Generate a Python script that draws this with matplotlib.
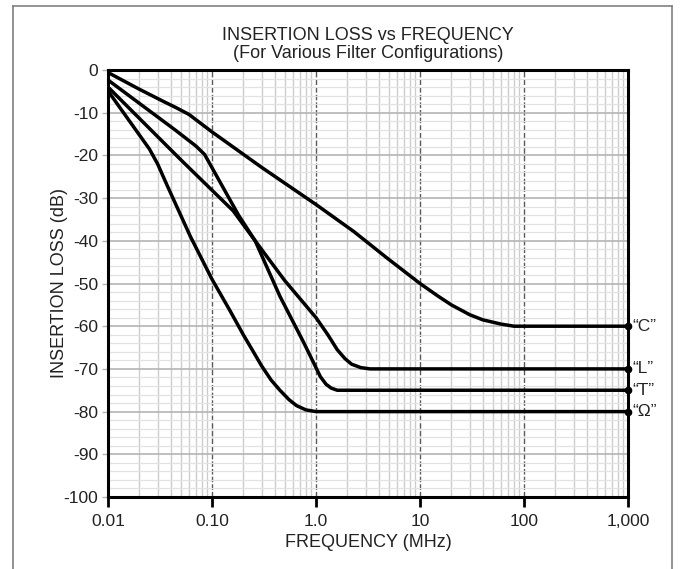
import matplotlib.pyplot as plt
from matplotlib.lines import Line2D
from matplotlib.ticker import FixedLocator, NullFormatter, LogLocator

plt.rcParams["font.family"] = ["Liberation Sans", "DejaVu Sans"]
plt.rcParams["axes.unicode_minus"] = False

# curve data (frequency in MHz, insertion loss in dB)
c_freq = [0.0102, 0.02, 0.035, 0.045, 0.06, 0.1, 0.3, 1.0, 2.3, 4.8, 10, 15, 20, 30, 40, 60, 80, 150, 1000]
c_loss = [-0.7, -4.5, -7.5, -8.8, -10.4, -14.5, -22.8, -31.5, -37.8, -44, -50, -53, -55, -57.3, -58.5, -59.5, -60, -60, -60]

l_freq = [0.0102, 0.05, 0.16, 0.26, 0.5, 1.0, 1.3, 1.6, 1.9, 2.2, 2.7, 3.3, 5, 1000]
l_loss = [-4.2, -21, -33, -40, -49.3, -58, -62, -65.5, -67.6, -68.9, -69.7, -70, -70, -70]

t_freq = [0.0102, 0.044, 0.07, 0.085, 0.18, 0.26, 0.45, 0.75, 0.95, 1.1, 1.25, 1.4, 1.6, 2.2, 1000]
t_loss = [-2.5, -14, -17.8, -19.8, -34, -40, -53, -63.5, -68.6, -71.8, -73.6, -74.5, -75, -75, -75]

o_freq = [0.0102, 0.025, 0.03, 0.037, 0.062, 0.1, 0.15, 0.2, 0.25, 0.3, 0.37, 0.45, 0.55, 0.65, 0.8, 1.0, 1.3, 1000]
o_loss = [-5.2, -18.5, -22, -27, -39, -49, -56.5, -62, -66, -69.3, -72.6, -75, -77.2, -78.6, -79.6, -80, -80, -80]

curve_names = ["\u201cC\u201d", "\u201cL\u201d", "\u201cT\u201d", "\u201c\u03a9\u201d"]

x_ticks = [0.01, 0.1, 1, 10, 100, 1000]
x_tick_labels = ["0.01", "0.10", "1.0", "10", "100", "1,000"]
y_ticks = list(range(-100, 1, 10))

fig = plt.figure(figsize=(6.84, 5.69), dpi=100)
ax = fig.add_axes([108 / 684, 1 - 497 / 569, 520 / 684, 427 / 569])

ax.set_xscale("log")
ax.set_xlim(0.01, 1000)
ax.set_ylim(-100, 0)

# grid
ax.xaxis.set_minor_locator(LogLocator(base=10, subs=range(2, 10)))
ax.xaxis.set_minor_formatter(NullFormatter())
ax.yaxis.set_minor_locator(FixedLocator(range(-98, 0, 2)))
ax.grid(which="minor", axis="x", color="#cccccc", lw=1.0)
ax.grid(which="minor", axis="y", color="#e2e2e2", lw=0.9)
ax.grid(which="major", axis="y", color="#b4b4b4", lw=1.2)
ax.grid(which="major", axis="x", color="#5a5a5a", lw=1.0, ls=(0, (4, 1.5)))
ax.set_axisbelow(True)

ax.set_xticks(x_ticks)
ax.set_xticklabels(x_tick_labels)
ax.set_yticks(y_ticks)
ax.tick_params(axis="x", which="major", direction="out", length=7, width=2, color="black",
               labelsize=12.5, pad=5, labelcolor="#222222")
ax.tick_params(axis="x", which="minor", length=0)
ax.tick_params(axis="y", which="major", direction="out", length=4, width=1, color="#b4b4b4",
               labelsize=12.5, pad=3, labelcolor="#222222")
ax.tick_params(axis="y", which="minor", length=0)

for s in ax.spines.values():
    s.set_linewidth(2.2)
    s.set_color("black")

for fx, ly, name in [(c_freq, c_loss, curve_names[0]), (l_freq, l_loss, curve_names[1]),
                     (t_freq, t_loss, curve_names[2]), (o_freq, o_loss, curve_names[3])]:
    ax.plot(fx, ly, color="black", lw=2.5, solid_joinstyle="round", solid_capstyle="round")
    ax.plot(fx[-1:], ly[-1:], "o", color="black", ms=4.5, clip_on=False, zorder=5)
    ax.annotate(name, (fx[-1], ly[-1]), textcoords="offset points", xytext=(3.5, 0),
                va="center", ha="left", fontsize=12.5, color="#222222", annotation_clip=False)

ax.set_xlabel("FREQUENCY (MHz)", fontsize=13, color="#222222", labelpad=4)
ax.set_ylabel("INSERTION LOSS (dB)", fontsize=13, color="#222222")
ax.yaxis.set_label_coords(-40 / 520, 0.5)

fig.text(368 / 684, 1 - 36 / 569, "INSERTION LOSS vs FREQUENCY", ha="center", va="center",
         fontsize=13, color="#222222")
fig.text(368 / 684, 1 - 54 / 569, "(For Various Filter Configurations)", ha="center", va="center",
         fontsize=13, color="#222222")

# outer frame (open at the bottom like the scan)
x0, x1, yt = 13 / 684, 672 / 684, 1 - 6 / 569
for xs, ys in [([x0, x0], [0, yt]), ([x0, x1], [yt, yt]), ([x1, x1], [yt, 0])]:
    fig.add_artist(Line2D(xs, ys, transform=fig.transFigure, color="#808080", lw=1.2))

fig.savefig("out.png", dpi=100)
